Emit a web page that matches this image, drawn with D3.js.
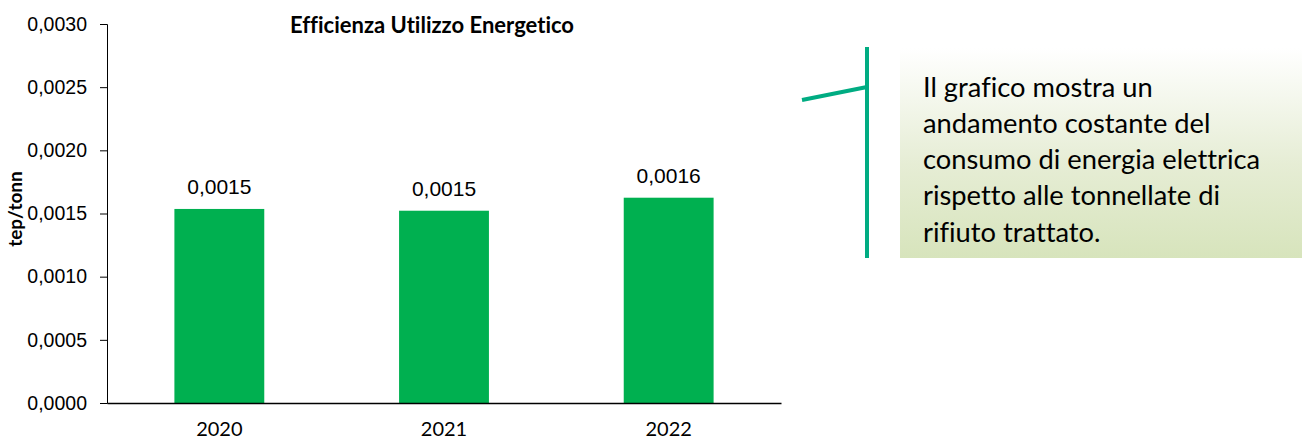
<!DOCTYPE html>
<html><head><meta charset="utf-8">
<script src="https://cdn.jsdelivr.net/npm/d3@7"></script>
<style>body{margin:0;background:#fff}svg{display:block}text{font-variant-ligatures:none;font-feature-settings:"liga" 0}</style>
</head><body>
<svg id="c" width="1302" height="441"></svg>
<script>
const categories = ["2020", "2021", "2022"];
const values = [0.001536, 0.001522, 0.001625];
const valueLabels = ["0,0015", "0,0015", "0,0016"];
const yTicks = [0, 0.0005, 0.001, 0.0015, 0.002, 0.0025, 0.003];
const title = "Efficienza Utilizzo Energetico";
const yTitle = "tep/tonn";
const calloutLines = ["Il grafico mostra un", "andamento costante del", "consumo di energia elettrica", "rispetto alle tonnellate di", "rifiuto trattato."];

const svg = d3.select("#c");
const m = {left: 107, right: 781, top: 24, bottom: 403};
const x = d3.scaleBand().domain(categories).range([m.left, m.right]).padding(0);
const y = d3.scaleLinear().domain([0, 0.003]).range([m.bottom, m.top]);
const fmt = d => d.toFixed(4).replace(".", ",");

// bars
const bw = x.bandwidth() * 0.4;
svg.append("g").selectAll("rect").data(values).join("rect")
  .attr("x", (d, i) => x(categories[i]) + (x.bandwidth() - bw) / 2)
  .attr("width", bw)
  .attr("y", d => y(d))
  .attr("height", d => y(0) - y(d))
  .attr("fill", "#00b050");

// data labels
svg.append("g").selectAll("text").data(values).join("text")
  .attr("x", (d, i) => x(categories[i]) + x.bandwidth() / 2)
  .attr("y", d => y(d) - 15)
  .attr("text-anchor", "middle")
  .attr("font-family", "Liberation Sans, Arial, sans-serif")
  .attr("font-size", 21).attr("fill", "#000")
  .text((d, i) => valueLabels[i]);

// y axis
const ya = svg.append("g").attr("transform", `translate(${m.left},0)`)
  .call(d3.axisLeft(y).tickValues(yTicks).tickFormat(fmt).tickSize(7).tickPadding(13));
ya.select(".domain").attr("stroke", "#000").attr("stroke-width", 1);
ya.selectAll(".tick line").attr("stroke", "#000");
ya.selectAll(".tick text").attr("font-family", "Liberation Sans, Arial, sans-serif")
  .attr("font-size", 19.5).attr("fill", "#000");

// x axis
const xa = svg.append("g").attr("transform", `translate(0,${m.bottom})`)
  .call(d3.axisBottom(x).tickSize(0).tickPadding(19));
xa.select(".domain").attr("stroke", "#000").attr("stroke-width", 1.3);
xa.selectAll(".tick text").attr("font-family", "Lato, Carlito, sans-serif")
  .attr("font-size", 20).attr("fill", "#000");

// title
svg.append("text").attr("x", 432).attr("y", 33).attr("text-anchor", "middle")
  .attr("font-family", "Lato, Carlito, sans-serif").attr("font-weight", "bold")
  .attr("font-size", 22).attr("fill", "#000").text(title);

// y title
svg.append("text").attr("transform", "translate(22,209) rotate(-90)")
  .attr("text-anchor", "middle")
  .attr("font-family", "Lato, Carlito, sans-serif").attr("font-weight", "bold")
  .attr("font-size", 19).attr("fill", "#000").text(yTitle);

// callout
const defs = svg.append("defs");
const grad = defs.append("linearGradient").attr("id", "g1").attr("x1", 0).attr("y1", 0).attr("x2", 0).attr("y2", 1);
grad.append("stop").attr("offset", "0%").attr("stop-color", "#ffffff");
grad.append("stop").attr("offset", "55%").attr("stop-color", "#e6edd5");
grad.append("stop").attr("offset", "100%").attr("stop-color", "#d7e4bc");
svg.append("rect").attr("x", 900).attr("y", 48).attr("width", 402).attr("height", 210).attr("fill", "url(#g1)");
svg.append("line").attr("x1", 867).attr("y1", 47).attr("x2", 867).attr("y2", 258)
  .attr("stroke", "#00ac82").attr("stroke-width", 4);
svg.append("line").attr("x1", 802).attr("y1", 100).attr("x2", 867).attr("y2", 87)
  .attr("stroke", "#00ac82").attr("stroke-width", 4);
svg.append("g").selectAll("text").data(calloutLines).join("text")
  .attr("x", 923).attr("y", (d, i) => 96.5 + i * 36.3)
  .attr("font-family", "Lato, Carlito, sans-serif")
  .attr("font-size", 27.3).attr("fill", "#000").text(d => d);
</script>
</body></html>
